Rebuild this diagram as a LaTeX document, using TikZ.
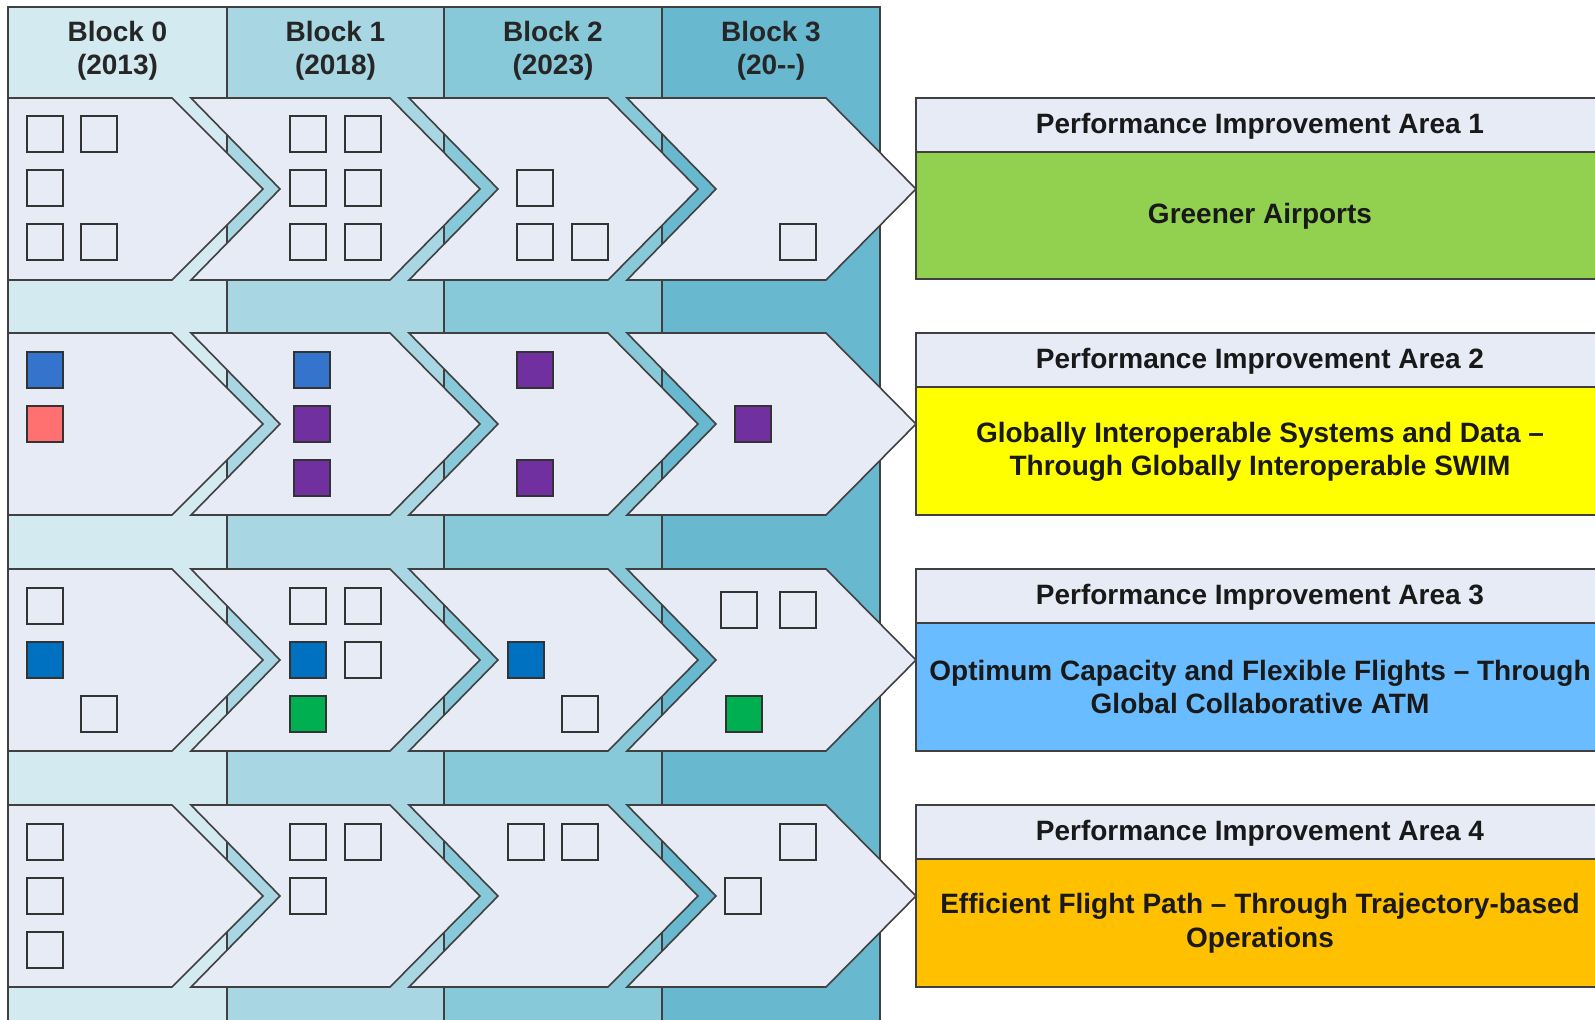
\documentclass[tikz,border=0pt]{standalone}
\usepackage{fontspec}
\setmainfont{Liberation Sans}
\definecolor{colA}{HTML}{D2EAF0}
\definecolor{colB}{HTML}{A8D6E2}
\definecolor{colC}{HTML}{88C9D9}
\definecolor{colD}{HTML}{68B8D0}
\definecolor{chevfill}{HTML}{E6EBF6}
\definecolor{edge}{HTML}{404040}
\definecolor{sqblueA}{HTML}{3574CC}
\definecolor{sqblueB}{HTML}{0070C0}
\definecolor{sqsalmon}{HTML}{FF7171}
\definecolor{sqpurple}{HTML}{7030A0}
\definecolor{sqgreen}{HTML}{00B050}
\definecolor{pgreen}{HTML}{92D050}
\definecolor{pyellow}{HTML}{FFFF00}
\definecolor{pblue}{HTML}{69BCFF}
\definecolor{porange}{HTML}{FFC000}
\begin{document}
\begin{tikzpicture}[x=0.5pt,y=-0.5pt,
  outl/.style={draw=edge,line width=0.8pt},
  chev/.style={outl,fill=chevfill,line join=miter},
  sq/.style={draw=black!80,line width=1pt,fill=chevfill,minimum size=17.6pt,inner sep=0pt},
  blktxt/.style={align=center,font=\bfseries\fontsize{14}{16.5}\selectfont,text=black!85},
  piatxt/.style={align=center,font=\bfseries\fontsize{14}{16.8}\selectfont,text=black!90},
  piahdr/.style={outl,fill=chevfill},
  piabody/.style={outl}]
\clip (0,0) rectangle (1595,1019);
\fill[white] (0,0) rectangle (1595,1019);
% columns
\fill[colA] (8,7) rectangle (227,1030);
\fill[colB] (227,7) rectangle (444,1030);
\fill[colC] (444,7) rectangle (662,1030);
\fill[colD] (662,7) rectangle (880,1030);
\draw[outl] (8,1030) -- (8,7) -- (880,7) -- (880,1030);
\foreach \xd in {227,444,662} \draw[outl] (\xd,7) -- (\xd,1030);
% headers
\node[blktxt] (b0) at (117.5,51) {Block 0\\(2013)};
\node[blktxt] (b1) at (335.5,51) {Block 1\\(2018)};
\node[blktxt] (b2) at (553,51) {Block 2\\(2023)};
\node[blktxt] (b3) at (771,51) {Block 3\\(20-{}-)};
% chevrons
\foreach \T in {98,333,569,805} {
  \draw[chev] (8,\T) -- (172,\T) -- (263,\T+91) -- (172,\T+182) -- (8,\T+182) -- cycle;
  \foreach \L in {191,409,627} {
    \draw[chev] (\L,\T) -- (\L+199,\T) -- (\L+289,\T+91) -- (\L+199,\T+182) -- (\L,\T+182) -- (\L+89,\T+91) -- cycle;
  }
}
% PIA boxes
\draw[piahdr] (916,98) rectangle (1604,152);
\draw[piabody,fill=pgreen] (916,152) rectangle (1604,279);
\draw[piahdr] (916,333) rectangle (1604,387);
\draw[piabody,fill=pyellow] (916,387) rectangle (1604,515);
\draw[piahdr] (916,569) rectangle (1604,623);
\draw[piabody,fill=pblue] (916,623) rectangle (1604,751);
\draw[piahdr] (916,805) rectangle (1604,859);
\draw[piabody,fill=porange] (916,859) rectangle (1604,987);
\node[piatxt] (h1) at (1260,126) {Performance Improvement Area 1};
\node[piatxt] (t1) at (1260,216) {Greener Airports};
\node[piatxt] (h2) at (1260,361) {Performance Improvement Area 2};
\node[piatxt] (t2) at (1260,452) {Globally Interoperable Systems and Data –\\Through Globally Interoperable SWIM};
\node[piatxt] (h3) at (1260,597) {Performance Improvement Area 3};
\node[piatxt] (t3) at (1260,687) {Optimum Capacity and Flexible Flights – Through\\Global Collaborative ATM};
\node[piatxt] (h4) at (1260,833) {Performance Improvement Area 4};
\node[piatxt] (t4) at (1260,923) {Efficient Flight Path – Through Trajectory-based\\Operations};
% squares row 1
\node[sq] (a01) at (45,134) {};
\node[sq] (a02) at (99,134) {};
\node[sq] (a03) at (45,188) {};
\node[sq] (a04) at (45,242) {};
\node[sq] (a05) at (99,242) {};
\node[sq] (a11) at (308,134) {};
\node[sq] (a12) at (363,134) {};
\node[sq] (a13) at (308,188) {};
\node[sq] (a14) at (363,188) {};
\node[sq] (a15) at (308,242) {};
\node[sq] (a16) at (363,242) {};
\node[sq] (a21) at (535,188) {};
\node[sq] (a22) at (535,242) {};
\node[sq] (a23) at (590,242) {};
\node[sq] (a31) at (798,242) {};
% squares row 2
\node[sq,fill=sqblueA] (b01) at (45,370) {};
\node[sq,fill=sqsalmon] (b02) at (45,424) {};
\node[sq,fill=sqblueA] (b11) at (312,370) {};
\node[sq,fill=sqpurple] (b12) at (312,424) {};
\node[sq,fill=sqpurple] (b13) at (312,478) {};
\node[sq,fill=sqpurple] (b21) at (535,370) {};
\node[sq,fill=sqpurple] (b22) at (535,478) {};
\node[sq,fill=sqpurple] (b31) at (753,424) {};
% squares row 3
\node[sq] (c01) at (45,606) {};
\node[sq,fill=sqblueB] (c02) at (45,660) {};
\node[sq] (c03) at (99,714) {};
\node[sq] (c11) at (308,606) {};
\node[sq] (c12) at (363,606) {};
\node[sq,fill=sqblueB] (c13) at (308,660) {};
\node[sq] (c14) at (363,660) {};
\node[sq,fill=sqgreen] (c15) at (308,714) {};
\node[sq,fill=sqblueB] (c21) at (526,660) {};
\node[sq] (c22) at (580,714) {};
\node[sq] (c31) at (739,610) {};
\node[sq] (c32) at (798,610) {};
\node[sq,fill=sqgreen] (c33) at (744,714) {};
% squares row 4
\node[sq] (d01) at (45,842) {};
\node[sq] (d02) at (45,896) {};
\node[sq] (d03) at (45,950) {};
\node[sq] (d11) at (308,842) {};
\node[sq] (d12) at (363,842) {};
\node[sq] (d13) at (308,896) {};
\node[sq] (d21) at (526,842) {};
\node[sq] (d22) at (580,842) {};
\node[sq] (d31) at (798,842) {};
\node[sq] (d32) at (743,896) {};
\end{tikzpicture}
\end{document}
